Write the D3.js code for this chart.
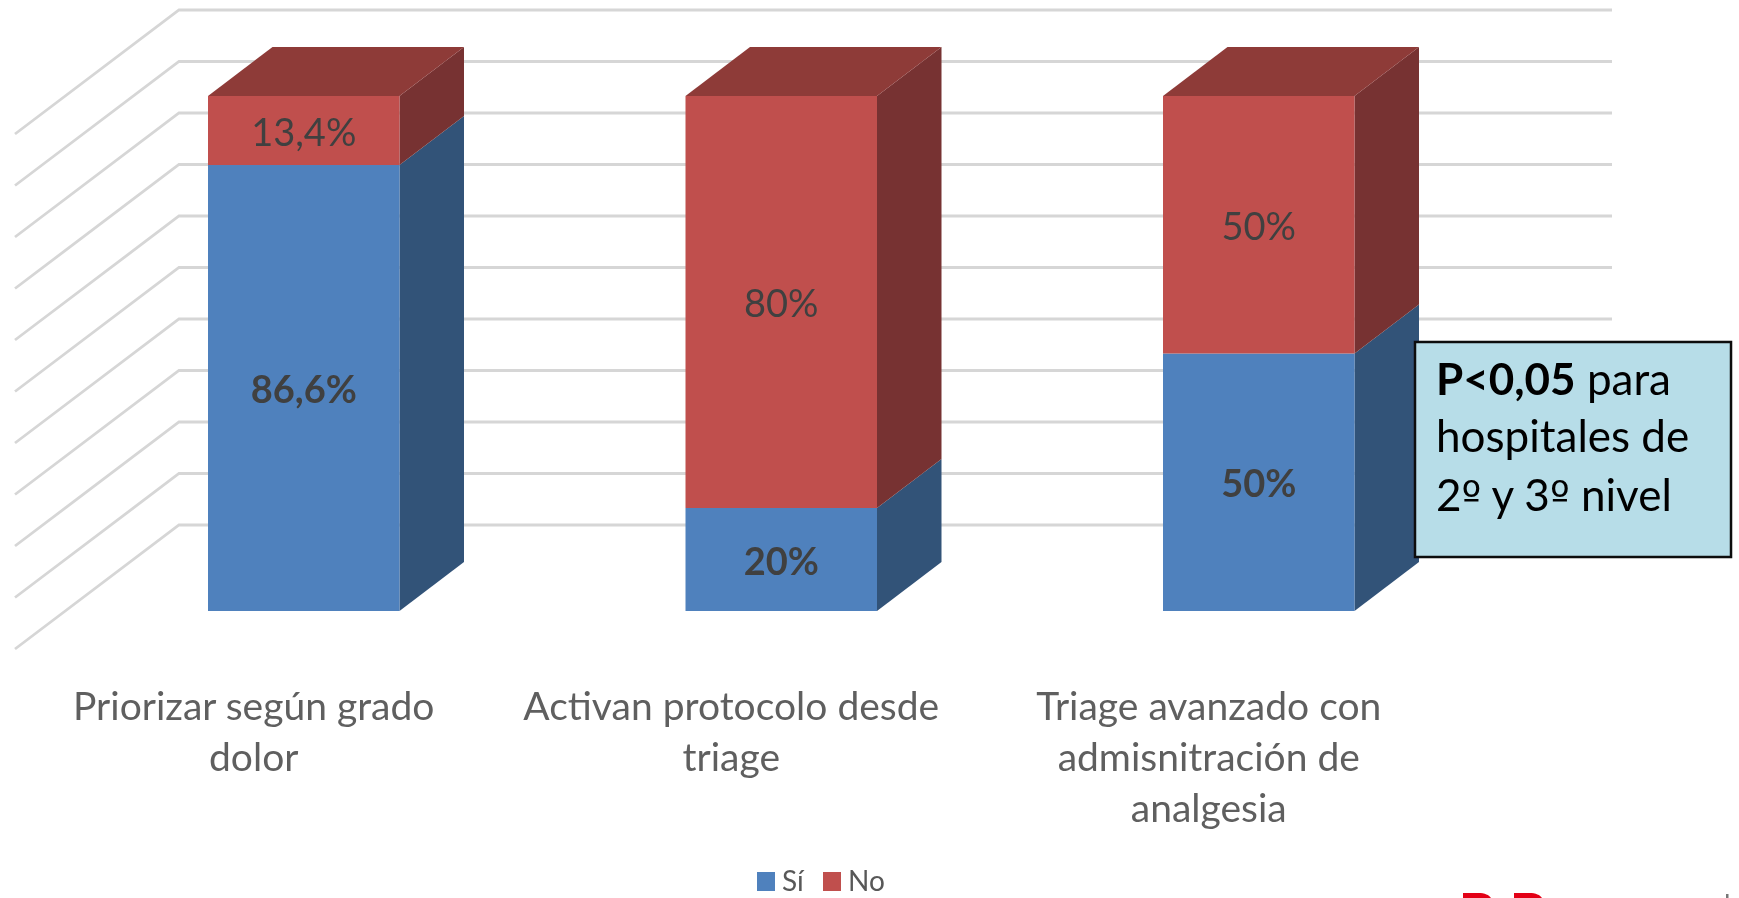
<!DOCTYPE html>
<html><head><meta charset="utf-8">
<script src="https://cdn.jsdelivr.net/npm/d3@7/dist/d3.min.js"></script>
<style>html,body{margin:0;padding:0;background:#fff;overflow:hidden}svg{display:block}text{font-family:Lato,"Open Sans",sans-serif}</style>
</head><body><svg id="c" width="1739" height="898"></svg>
<script>
const categories = ["Priorizar según grado dolor","Activan protocolo desde triage","Triage avanzado con admisnitración de analgesia"];
const categoryLines = [["Priorizar según grado","dolor"],["Activan protocolo desde","triage"],["Triage avanzado con","admisnitración de","analgesia"]];
const si = [86.6,20,50];
const no = [13.4,80,50];
const siLabels = ["86,6%","20%","50%"];
const noLabels = ["13,4%","80%","50%"];
const ticks = [0,10,20,30,40,50,60,70,80,90,100];
const legendNames = ["Sí","No"];

const svg = d3.select("#c");
svg.append("defs").append("filter").attr("id","soft").attr("x","-2%").attr("y","-2%").attr("width","104%").attr("height","104%")
  .append("feGaussianBlur").attr("stdDeviation",0.6);
const root = svg.append("g").attr("filter","url(#soft)");
const y = d3.scaleLinear().domain([0,100]).range([611,96]);
const yBack = d3.scaleLinear().domain([0,100]).range([525,10]);
const bandX = d3.scalePoint().domain(categories).range([208,1163]);
const barW = 191.5, dx = 64.5, dy = -49;
const C = {si:{f:"#4F81BD",s:"#325278"},no:{f:"#C0504D",s:"#773230",t:"#8E3A38"}};

// gridlines (left wall + back wall)
const grid = root.append("g");
ticks.forEach(t=>{
  const by = yBack(t);
  grid.append("polyline").attr("points",`15,${by+124} 179,${by} 1612,${by}`)
    .attr("fill","none").attr("stroke","#d6d6d6").attr("stroke-width",2.8);
});

categories.forEach((c,i)=>{
  const g = root.append("g"), x0=bandX(c), x1=x0+barW;
  const segs=[{k:"si",a:0,b:si[i]},{k:"no",a:si[i],b:100}];
  segs.forEach(s=>{
    const ya=y(s.a), yb=y(s.b), col=C[s.k];
    g.append("path").attr("d",`M${x1},${ya}L${x1+dx},${ya+dy}L${x1+dx},${yb+dy}L${x1},${yb}Z`).attr("fill",col.s);
    g.append("rect").attr("x",x0).attr("y",yb).attr("width",barW).attr("height",ya-yb).attr("fill",col.f);
  });
  const yt=y(100);
  g.append("path").attr("d",`M${x0},${yt}L${x0+dx},${yt+dy}L${x1+dx},${yt+dy}L${x1},${yt}Z`).attr("fill",C.no.t);
  g.append("text").attr("x",x0+barW/2).attr("y",y(si[i]/2)+15).attr("text-anchor","middle")
    .attr("font-size",38).attr("font-weight",700).attr("fill","#404040").text(siLabels[i]);
  g.append("text").attr("x",x0+barW/2).attr("y",y(si[i]+no[i]/2)+15).attr("text-anchor","middle")
    .attr("font-size",38).attr("fill","#404040").text(noLabels[i]);
  categoryLines[i].forEach((l,j)=>{
    root.append("text").attr("x",x0+barW/2-50).attr("y",720+j*51).attr("text-anchor","middle")
      .attr("font-size",39).attr("fill","#5f5f5f").text(l);
  });
});

// legend
const lx=[757,823];
legendNames.forEach((n,i)=>{
  root.append("rect").attr("x",lx[i]).attr("y",872).attr("width",18).attr("height",19).attr("fill",i?C.no.f:C.si.f);
  root.append("text").attr("x",lx[i]+25).attr("y",891).attr("font-size",28).attr("fill","#595959").text(n);
});

// annotation
root.append("rect").attr("x",1415).attr("y",342).attr("width",316).attr("height",215).attr("fill","#B7DDE8").attr("stroke","#111").attr("stroke-width",2.5);
const an=root.append("text").attr("font-size",44).attr("fill","#000");
const l1=an.append("tspan").attr("x",1436).attr("y",395);
l1.append("tspan").attr("font-weight",700).text("P<0,05");
l1.append("tspan").text(" para");
an.append("tspan").attr("x",1436).attr("y",452).text("hospitales de");
const l3=an.append("tspan").attr("x",1436).attr("y",511);
l3.append("tspan").text("2");
l3.append("tspan").style("font-family","'DejaVu Sans'").attr("font-size",42).text("º");
l3.append("tspan").text(" y 3");
l3.append("tspan").style("font-family","'DejaVu Sans'").attr("font-size",42).text("º");
l3.append("tspan").text(" nivel");

// logo fragment cut off by the bottom edge (decorative shapes only)
const logo=root.append("g").attr("fill","#E30613");
logo.append("path").attr("d","M1463,898V893H1478C1485,893 1489,895 1491,898Z");
logo.append("path").attr("d","M1514,898V893H1529C1536,893 1540,895 1542,898Z");
root.append("rect").attr("x",1726).attr("y",894).attr("width",2.5).attr("height",4).attr("fill","#777");
</script></body></html>
